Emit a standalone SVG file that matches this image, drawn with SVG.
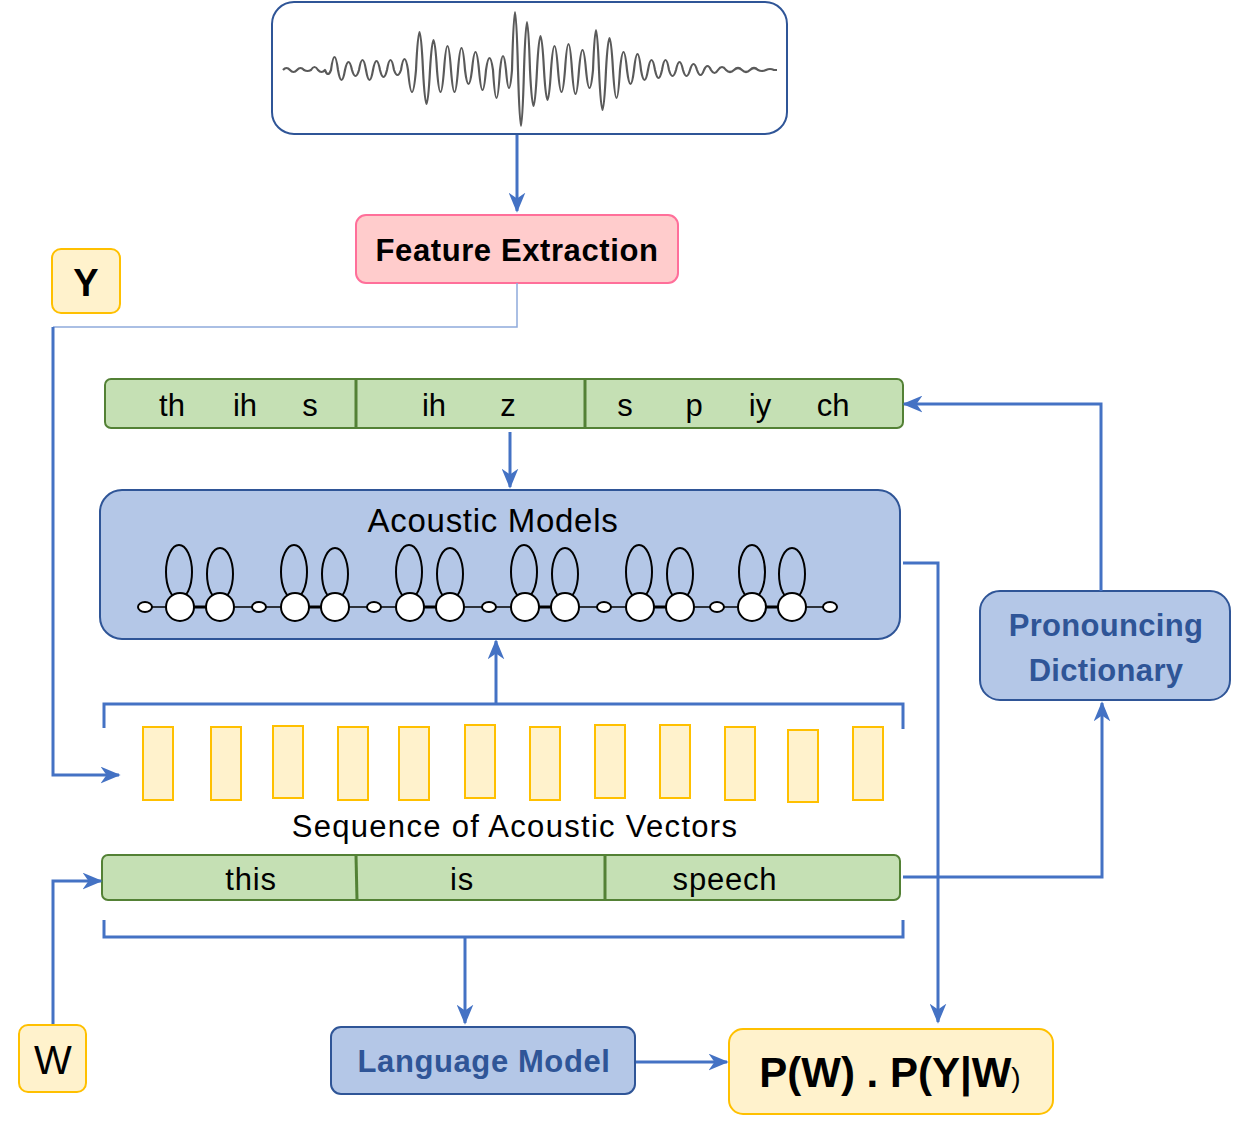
<svg xmlns="http://www.w3.org/2000/svg" width="1235" height="1127" viewBox="0 0 1235 1127">
<style>
.t{font-family:"Liberation Sans",Arial,sans-serif;fill:#000;text-anchor:middle}
.b{font-weight:bold}
.blue{fill:#2F5597}
.con{fill:none;stroke:#4472C4;stroke-width:3}
.yel{fill:#FFF2CC;stroke:#FFC000;stroke-width:2}
.grn{fill:#C5E0B4;stroke:#538135;stroke-width:2}
.bl{fill:#B4C7E7;stroke:#2F5597;stroke-width:2}
.loop{fill:none;stroke:#000;stroke-width:2}
.st{fill:#fff;stroke:#000;stroke-width:2}
</style>
<defs>
<marker id="arr" viewBox="0 0 12 10" refX="11" refY="5" markerWidth="20" markerHeight="17" markerUnits="userSpaceOnUse" orient="auto">
<path d="M0,0 L12,5 L0,10 L3.5,5 z" fill="#4472C4"/>
</marker>
</defs>
<rect width="1235" height="1127" fill="#fff"/>

<g id="waveform">
<rect x="272" y="2" width="515" height="132" rx="22" fill="#fff" stroke="#2F5597" stroke-width="2"/>
<path fill="none" stroke="#5a5a5a" stroke-width="2.2" stroke-linejoin="round" d="M283,70 Q286.5,66 290,70 Q293.5,74 297,70 Q300.5,66 304,70 Q307.5,72 311,70 Q314.5,64 318,70 Q321.5,74 325,70 Q328,78 331,70 Q334.5,44 338,70 Q341.5,90 345,70 Q348.5,54 352,70 Q355.5,82 359,70 Q362.5,50 366,70 Q369.5,90 373,70 Q376.5,52 380,70 Q383.5,84 387,70 Q390.5,50 394,70 Q397.5,80 401,70 Q404.5,48 408,70 Q412,114 416,70 Q419.5,-6 423,70 Q426.5,138 430,70 Q433.5,10 437,70 Q440.5,114 444,70 Q447.5,22 451,70 Q454.5,114 458,70 Q461.5,26 465,70 Q468.5,98 472,70 Q475.5,34 479,70 Q482.5,110 486,70 Q489.5,46 493,70 Q496.5,126 500,70 Q503,42 506,70 Q509,106 512,70 Q515,-46 518,70 Q521,182 524,70 Q527,-26 530,70 Q533.5,142 537,70 Q540.5,2 544,70 Q547.5,130 551,70 Q554.5,22 558,70 Q561.5,114 565,70 Q568.5,18 572,70 Q575.5,118 579,70 Q582.5,30 586,70 Q589.5,106 593,70 Q596,-10 599,70 Q602.5,150 606,70 Q609.5,6 613,70 Q616.5,126 620,70 Q623.5,34 627,70 Q630.5,98 634,70 Q637.5,38 641,70 Q644.5,90 648,70 Q651.5,50 655,70 Q658.5,86 662,70 Q665.5,50 669,70 Q672.5,82 676,70 Q679.5,54 683,70 Q686.5,82 690,70 Q693.5,58 697,70 Q700.5,80 704,70 Q707.5,62 711,70 Q714.5,76 718,70 Q722,64 726,70 Q730,74 734,70 Q738,66 742,70 Q746,74 750,70 Q754,66 758,70 Q762,72 766,70 Q770,68 774,70 L777,70"/>
</g>

<g id="feature-extraction">
<rect x="356" y="215" width="322" height="68" rx="10" fill="#FFCCCC" stroke="#FF6F9A" stroke-width="2"/>
<text class="t b" x="517" y="261" font-size="31" letter-spacing="0.6">Feature Extraction</text>
</g>

<g id="Y">
<rect class="yel" x="52" y="249" width="68" height="64" rx="9"/>
<text class="t b" x="86" y="296" font-size="38">Y</text>
</g>

<g id="phonemes">
<rect class="grn" x="105" y="379" width="798" height="49" rx="6"/>
<line x1="356" y1="379" x2="356" y2="428" stroke="#538135" stroke-width="3"/>
<line x1="585" y1="379" x2="585" y2="428" stroke="#538135" stroke-width="3"/>
<g class="t" font-size="31">
<text x="172" y="416">th</text><text x="245" y="416">ih</text><text x="310" y="416">s</text>
<text x="434" y="416">ih</text><text x="508" y="416">z</text>
<text x="625" y="416">s</text><text x="694" y="416">p</text><text x="760" y="416">iy</text><text x="833" y="416">ch</text>
</g>
</g>

<g id="acoustic-models">
<rect class="bl" x="100" y="490" width="800" height="149" rx="22"/>
<text class="t" x="493" y="532" font-size="33" letter-spacing="0.7">Acoustic Models</text>
<line x1="145" y1="607" x2="835" y2="607" stroke="#000" stroke-width="1.5"/>
<g stroke="#000" stroke-width="3">
<line x1="180" y1="607" x2="220" y2="607"/><line x1="295" y1="607" x2="335" y2="607"/><line x1="410" y1="607" x2="450" y2="607"/>
<line x1="525" y1="607" x2="565" y2="607"/><line x1="640" y1="607" x2="680" y2="607"/><line x1="752" y1="607" x2="792" y2="607"/>
</g>
<g class="loop">
<ellipse cx="179" cy="572" rx="13" ry="27"/><ellipse cx="220" cy="574" rx="13" ry="26"/>
<ellipse cx="294" cy="572" rx="13" ry="27"/><ellipse cx="335" cy="574" rx="13" ry="26"/>
<ellipse cx="409" cy="572" rx="13" ry="27"/><ellipse cx="450" cy="574" rx="13" ry="26"/>
<ellipse cx="524" cy="572" rx="13" ry="27"/><ellipse cx="565" cy="574" rx="13" ry="26"/>
<ellipse cx="639" cy="572" rx="13" ry="27"/><ellipse cx="680" cy="574" rx="13" ry="26"/>
<ellipse cx="752" cy="572" rx="13" ry="27"/><ellipse cx="792" cy="574" rx="13" ry="26"/>
</g>
<g class="st">
<circle cx="180" cy="607" r="14"/><circle cx="220" cy="607" r="14"/>
<circle cx="295" cy="607" r="14"/><circle cx="335" cy="607" r="14"/>
<circle cx="410" cy="607" r="14"/><circle cx="450" cy="607" r="14"/>
<circle cx="525" cy="607" r="14"/><circle cx="565" cy="607" r="14"/>
<circle cx="640" cy="607" r="14"/><circle cx="680" cy="607" r="14"/>
<circle cx="752" cy="607" r="14"/><circle cx="792" cy="607" r="14"/>
<ellipse cx="145" cy="607" rx="7" ry="5"/><ellipse cx="259" cy="607" rx="7" ry="5"/><ellipse cx="374" cy="607" rx="7" ry="5"/>
<ellipse cx="489" cy="607" rx="7" ry="5"/><ellipse cx="604" cy="607" rx="7" ry="5"/><ellipse cx="717" cy="607" rx="7" ry="5"/><ellipse cx="830" cy="607" rx="7" ry="5"/>
</g>
</g>

<g id="acoustic-vectors">
<g class="yel">
<rect x="143" y="727" width="30" height="73"/><rect x="211" y="727" width="30" height="73"/>
<rect x="273" y="726" width="30" height="72"/><rect x="338" y="727" width="30" height="73"/>
<rect x="399" y="727" width="30" height="73"/><rect x="465" y="725" width="30" height="73"/>
<rect x="530" y="727" width="30" height="73"/><rect x="595" y="725" width="30" height="73"/>
<rect x="660" y="725" width="30" height="73"/><rect x="725" y="727" width="30" height="73"/>
<rect x="788" y="730" width="30" height="72"/><rect x="853" y="727" width="30" height="73"/>
</g>
<text class="t" x="515" y="837" font-size="31" letter-spacing="1.3">Sequence of Acoustic Vectors</text>
</g>

<g id="words">
<rect class="grn" x="102" y="855" width="798" height="45" rx="6"/>
<line x1="356" y1="855" x2="357" y2="900" stroke="#538135" stroke-width="3"/>
<line x1="605" y1="855" x2="605" y2="900" stroke="#538135" stroke-width="3"/>
<g class="t" font-size="31" letter-spacing="0.8">
<text x="251" y="890">this</text><text x="462" y="890">is</text><text x="725" y="890">speech</text>
</g>
</g>

<g id="pronouncing-dictionary">
<rect class="bl" x="980" y="591" width="250" height="109" rx="20"/>
<text class="t b blue" x="1106" y="636" font-size="31" letter-spacing="0.3">Pronouncing</text>
<text class="t b blue" x="1106" y="681" font-size="31" letter-spacing="0.3">Dictionary</text>
</g>

<g id="W">
<rect class="yel" x="19" y="1025" width="67" height="67" rx="9"/>
<text class="t" x="53" y="1074" font-size="40">W</text>
</g>

<g id="language-model">
<rect class="bl" x="331" y="1027" width="304" height="67" rx="10"/>
<text class="t b blue" x="484" y="1072" font-size="31" letter-spacing="0.6">Language Model</text>
</g>

<g id="probability">
<rect class="yel" x="729" y="1029" width="324" height="85" rx="14"/>
<text class="t b" x="890" y="1087" font-size="42">P(W) . P(Y|W<tspan font-size="28" font-weight="normal">)</tspan></text>
</g>

<g id="connectors">
<path class="con" d="M517,135 V211" marker-end="url(#arr)"/>
<path d="M517,283 V327 H53" fill="none" stroke="#8FAADC" stroke-width="1.5"/>
<path class="con" d="M53,327 V775 H119" marker-end="url(#arr)"/>
<path class="con" d="M510,432 V487" marker-end="url(#arr)"/>
<path class="con" d="M1101,591 V404 H904" marker-end="url(#arr)"/>
<path class="con" d="M903,563 H938 V1022" marker-end="url(#arr)"/>
<path class="con" d="M104,728 V704 H903 V729"/>
<path class="con" d="M496,704 V641" marker-end="url(#arr)"/>
<path class="con" d="M53,1024 V881 H101" marker-end="url(#arr)"/>
<path class="con" d="M104,920 V937 H903 V920"/>
<path class="con" d="M465,937 V1023" marker-end="url(#arr)"/>
<path class="con" d="M903,877 H1102 V703" marker-end="url(#arr)"/>
<path class="con" d="M636,1062 H727" marker-end="url(#arr)"/>
</g>
</svg>
